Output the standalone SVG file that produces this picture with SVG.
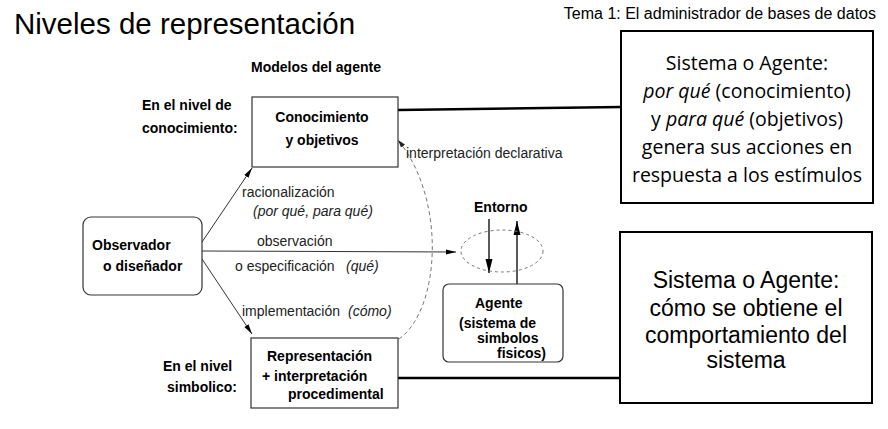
<svg xmlns="http://www.w3.org/2000/svg" width="888" height="429" viewBox="0 0 888 429">
<defs>
<style>
.t{font-family:"Liberation Sans",Arial,sans-serif;fill:#000}
.b{font-weight:bold;font-size:14px}
.lbl{font-size:14px;fill:#222}
.i{font-style:italic}
.box{fill:#fff;stroke:#333;stroke-width:1.2}
.big{fill:#fff;stroke:#000;stroke-width:2}
.os{font-family:"Open Sans","Liberation Sans",sans-serif;font-size:19.5px;fill:#000}
.ln{stroke:#000;stroke-width:2.5;fill:none}
.ar{stroke:#333;stroke-width:1;fill:none}
</style>
<marker id="ah" markerWidth="10" markerHeight="6" refX="10" refY="3" orient="auto" markerUnits="userSpaceOnUse">
<path d="M0,0.5 L10,3 L0,5.5 Z" fill="#000"/>
</marker>
<marker id="ahb" markerWidth="14" markerHeight="8" refX="14" refY="4" orient="auto" markerUnits="userSpaceOnUse">
<path d="M0,0.5 L14,4 L0,7.5 Z" fill="#000"/>
</marker>
<marker id="ahd" markerWidth="8" markerHeight="6" refX="8" refY="3" orient="auto" markerUnits="userSpaceOnUse">
<path d="M0,0.5 L8,3 L0,5.5 Z" fill="#222"/>
</marker>
</defs>
<rect width="888" height="429" fill="#fff"/>
<text class="t" x="14" y="34" font-size="29.5">Niveles de representación</text>
<text class="t" x="876" y="19" font-size="16" text-anchor="end">Tema 1: El administrador de bases de datos</text>
<text class="t b" x="316" y="72" text-anchor="middle">Modelos del agente</text>
<text class="t b" x="142" y="110">En el nivel de</text>
<text class="t b" x="142" y="133">conocimiento:</text>
<text class="t b" x="163" y="371">En el nivel</text>
<text class="t b" x="167" y="392">simbolico:</text>

<g id="connectors">
<line class="ln" x1="398" y1="110" x2="621" y2="107"/>
<line class="ln" x1="398" y1="378" x2="620" y2="378"/>
<line class="ar" x1="202" y1="242" x2="252" y2="168" marker-end="url(#ah)"/>
<line class="ar" x1="202" y1="251" x2="456" y2="252" marker-end="url(#ah)"/>
<line class="ar" x1="202" y1="259" x2="252" y2="334" marker-end="url(#ah)"/>
<path d="M399,339 C440,310 447,200 398,140" fill="none" stroke="#777" stroke-width="1" stroke-dasharray="4,3" marker-end="url(#ahd)"/>
<line x1="489" y1="219" x2="489" y2="273" stroke="#000" stroke-width="1.3" marker-end="url(#ahb)"/>
<line x1="517" y1="284" x2="517" y2="221" stroke="#000" stroke-width="1.3" marker-end="url(#ahb)"/>
<text class="t lbl" x="406" y="158">interpretación declarativa</text>
<text class="t lbl" x="242" y="197">racionalización</text>
<text class="t lbl i" x="253" y="216">(por qué, para qué)</text>
<text class="t lbl" x="257" y="246">observación</text>
<text class="t lbl" x="235" y="271">o especificación</text>
<text class="t lbl i" x="346" y="271">(qué)</text>
<text class="t lbl" x="242" y="316">implementación</text>
<text class="t lbl i" x="348" y="316">(cómo)</text>
</g>

<g id="conocimiento">
<rect class="box" x="252" y="97" width="146" height="70"/>
<text class="t b" x="322" y="122" text-anchor="middle">Conocimiento</text>
<text class="t b" x="322" y="145" text-anchor="middle">y objetivos</text>
</g>

<g id="observador">
<rect class="box" x="83" y="217" width="119" height="78" rx="8"/>
<text class="t b" x="92" y="250">Observador</text>
<text class="t b" x="103" y="271">o diseñador</text>
</g>

<g id="representacion">
<rect class="box" x="251" y="338" width="147" height="70"/>
<text class="t b" x="267" y="361">Representación</text>
<text class="t b" x="262" y="381">+ interpretación</text>
<text class="t b" x="288" y="399">procedimental</text>
</g>

<g id="entorno">
<ellipse cx="502" cy="251" rx="41" ry="21" fill="none" stroke="#777" stroke-width="1" stroke-dasharray="3,3"/>
<text class="t b" x="474" y="212">Entorno</text>
</g>

<g id="agente">
<rect class="box" x="443" y="284" width="120" height="78" rx="6"/>
<text class="t b" x="475" y="308">Agente</text>
<text class="t b" x="459" y="328">(sistema de</text>
<text class="t b" x="477" y="343">simbolos</text>
<text class="t b" x="497" y="358">fisicos)</text>
</g>

<g id="sistema-conocimiento">
<rect class="big" x="621" y="31" width="252" height="172"/>
<text class="os" x="747" y="70" text-anchor="middle">Sistema o Agente:</text>
<text class="os" x="747" y="98" text-anchor="middle"><tspan font-style="italic">por qué</tspan> (conocimiento)</text>
<text class="os" x="747" y="126" text-anchor="middle">y <tspan font-style="italic">para qué</tspan> (objetivos)</text>
<text class="os" x="747" y="154" text-anchor="middle">genera sus acciones en</text>
<text class="os" x="747" y="182" text-anchor="middle">respuesta a los estímulos</text>
</g>

<g id="sistema-simbolico">
<rect class="big" x="620" y="232" width="252" height="171"/>
<text class="t" x="746" y="288" font-size="23" text-anchor="middle">Sistema o Agente:</text>
<text class="t" x="746" y="316" font-size="23" text-anchor="middle">cómo se obtiene el</text>
<text class="t" x="746" y="343" font-size="23" text-anchor="middle">comportamiento del</text>
<text class="t" x="746" y="368" font-size="23" text-anchor="middle">sistema</text>
</g>
</svg>
